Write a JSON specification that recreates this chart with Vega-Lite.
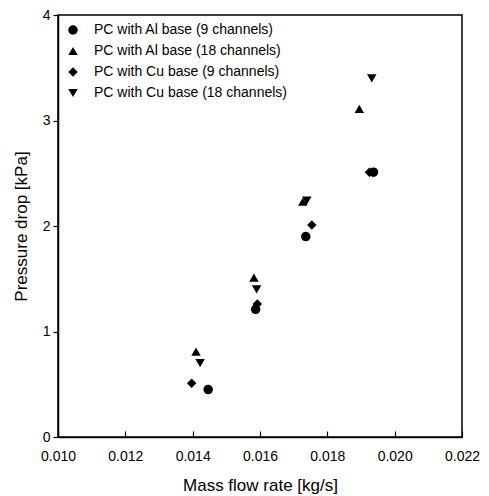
{
  "$schema": "https://vega.github.io/schema/vega-lite/v6.json",
  "width": 404,
  "height": 422,
  "autosize": {"type": "none"},
  "padding": {"left": 58, "top": 15, "right": 27, "bottom": 59},
  "background": "white",
  "config": {
    "font": "Liberation Sans",
    "view": {"stroke": "black", "strokeWidth": 1.5},
    "axis": {"grid": false, "domainColor": "black", "domainWidth": 1.5, "tickColor": "black", "tickWidth": 1.2, "labelColor": "black", "titleColor": "black", "labelFont": "Liberation Sans", "titleFont": "Liberation Sans", "titleFontWeight": "normal", "labelFontSize": 14, "titleFontSize": 17, "labelFlush": false}
  },
  "data": {"values": [
    {"series": "PC with Al base (9 channels)", "x": 0.01446, "y": 0.45},
    {"series": "PC with Al base (9 channels)", "x": 0.01587, "y": 1.21},
    {"series": "PC with Al base (9 channels)", "x": 0.01736, "y": 1.90},
    {"series": "PC with Al base (9 channels)", "x": 0.01937, "y": 2.51},
    {"series": "PC with Al base (18 channels)", "x": 0.0141, "y": 0.81},
    {"series": "PC with Al base (18 channels)", "x": 0.01582, "y": 1.51},
    {"series": "PC with Al base (18 channels)", "x": 0.01727, "y": 2.23},
    {"series": "PC with Al base (18 channels)", "x": 0.01895, "y": 3.11},
    {"series": "PC with Cu base (9 channels)", "x": 0.01397, "y": 0.51},
    {"series": "PC with Cu base (9 channels)", "x": 0.01592, "y": 1.26},
    {"series": "PC with Cu base (9 channels)", "x": 0.01754, "y": 2.01},
    {"series": "PC with Cu base (9 channels)", "x": 0.01925, "y": 2.51},
    {"series": "PC with Cu base (18 channels)", "x": 0.01422, "y": 0.70},
    {"series": "PC with Cu base (18 channels)", "x": 0.0159, "y": 1.40},
    {"series": "PC with Cu base (18 channels)", "x": 0.01739, "y": 2.24},
    {"series": "PC with Cu base (18 channels)", "x": 0.01932, "y": 3.40}
  ]},
  "mark": {"type": "point", "filled": true, "opacity": 1, "size": 90, "color": "black"},
  "encoding": {
    "x": {"field": "x", "type": "quantitative", "scale": {"domain": [0.01, 0.022], "nice": false, "zero": false},
      "axis": {"values": [0.010, 0.012, 0.014, 0.016, 0.018, 0.020, 0.022], "format": ".3f", "title": "Mass flow rate [kg/s]", "tickSize": -6, "labelPadding": 18, "titlePadding": 14}},
    "y": {"field": "y", "type": "quantitative", "scale": {"domain": [0, 4], "nice": false},
      "axis": {"values": [0, 1, 2, 3, 4], "format": "d", "title": "Pressure drop [kPa]", "tickSize": 5, "labelPadding": 3, "titlePadding": 12}},
    "shape": {"field": "series", "type": "nominal",
      "scale": {"domain": ["PC with Al base (9 channels)", "PC with Al base (18 channels)", "PC with Cu base (9 channels)", "PC with Cu base (18 channels)"], "range": ["circle", "triangle-up", "diamond", "triangle-down"]},
      "legend": {"title": null, "orient": "none", "legendX": 8, "legendY": 8, "labelFontSize": 14, "labelLimit": 0, "labelColor": "black", "labelOffset": 14, "rowPadding": 5, "symbolFillColor": "black", "symbolStrokeColor": "black", "symbolSize": 90, "symbolOpacity": 1}}
  }
}
